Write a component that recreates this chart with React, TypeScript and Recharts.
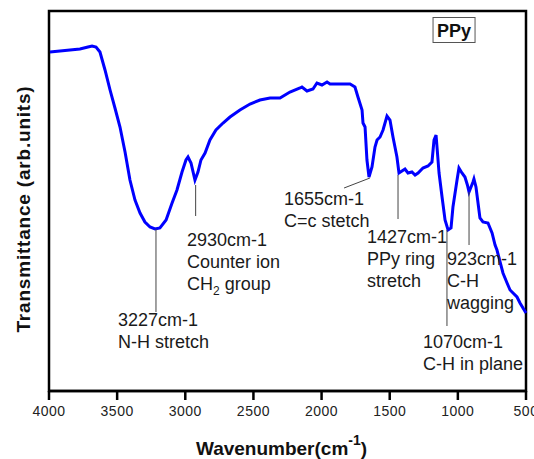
import {
  Line,
  LineChart,
  ReferenceArea,
  ReferenceDot,
  ReferenceLine,
  XAxis,
  YAxis,
} from "recharts";

// FTIR spectrum of PPy (wavenumber cm-1, transmittance arb.)
const wavenumber = [
  3993, 3846, 3773, 3714, 3684, 3655, 3626, 3589, 3552, 3516, 3479, 3442, 3406,
  3369, 3332, 3296, 3259, 3222, 3186, 3141, 3097, 3061, 3024, 2995, 2980, 2958,
  2929, 2907, 2885, 2855, 2819, 2775, 2723, 2672, 2599, 2525, 2452, 2378, 2305,
  2232, 2158, 2144, 2107, 2063, 2034, 1997, 1960, 1938, 1791, 1755, 1733, 1703,
  1696, 1681, 1667, 1652, 1630, 1608, 1593, 1571, 1549, 1520, 1498, 1476, 1447,
  1432, 1410, 1388, 1366, 1337, 1314, 1292, 1256, 1219, 1190, 1175, 1160, 1153,
  1138, 1116, 1094, 1072, 1050, 1036, 1006, 992, 970, 948, 930, 918, 889, 882,
  867, 852, 838, 816, 779, 749, 727, 713, 669, 639, 617, 595, 566, 544, 500,
];
const transmittance = [
  339, 341, 342, 344, 345, 344, 339, 321, 301, 283, 264, 239, 211, 191, 178,
  169, 164, 162, 163, 171, 188, 201, 219, 231, 234, 228, 211, 219, 231, 238,
  251, 261, 268, 274, 281, 287, 291, 293, 293, 299, 303, 304, 300, 302, 308,
  306, 309, 307, 307, 304, 294, 281, 268, 264, 231, 214, 224, 244, 251, 254,
  261, 275, 271, 254, 234, 218, 220, 222, 218, 219, 216, 218, 223, 225, 229,
  251, 256, 244, 218, 194, 171, 161, 163, 184, 211, 223, 218, 214, 206, 199,
  209, 212, 204, 188, 173, 169, 168, 158, 146, 141, 118, 108, 101, 98, 94, 88,
  78,
];

const xTicks = [4000, 3500, 3000, 2500, 2000, 1500, 1000, 500];

// peak annotations: leader line ends and text anchor, in data units
const noteFrom = [[3215, 162], [2924, 206], [1645, 213], [1439, 216], [1080, 161], [918, 199]];
const noteTo = [[3215, 79], [2924, 175], [1835, 203], [1439, 172], [1080, 65], [918, 146]];
const noteAt = [[3494, 65], [2987, 145], [2276, 186], [1667, 148], [1256, 43], [1080, 126]];
const noteText = [
  ["3227cm-1", "N-H stretch"],
  ["2930cm-1", "Counter ion", "CH_2 group"],
  ["1655cm-1", "C=c stetch"],
  ["1427cm-1", "PPy ring", "stretch"],
  ["1070cm-1", "C-H in plane"],
  ["923cm-1", "C-H", "wagging"],
];

const data = wavenumber.map((w, i) => ({ w, t: transmittance[i] }));

const FONT = "'Liberation Sans', Arial, sans-serif";

function NoteText({ cx, cy, lines }: { cx?: number; cy?: number; lines: string[] }) {
  if (cx == null || cy == null) return null;
  return (
    <text x={cx} y={cy} fontFamily={FONT} fontSize={18} fill="#1a1a1a">
      {lines.map((ln, i) => {
        const parts = ln.split("_2");
        return (
          <tspan key={i} x={cx} dy={i === 0 ? 0 : 22}>
            {parts.length > 1 ? (
              <>
                {parts[0]}
                <tspan fontSize={12} dy={5}>2</tspan>
                <tspan dy={-5}>{parts[1]}</tspan>
              </>
            ) : (
              ln
            )}
          </tspan>
        );
      })}
    </text>
  );
}

function TagBox({ cx, cy }: { cx?: number; cy?: number }) {
  if (cx == null || cy == null) return null;
  return (
    <g>
      <rect x={cx - 21} y={cy - 12.5} width={42} height={25} fill="#fff" stroke="#555" strokeWidth={1} />
      <text x={cx} y={cy + 7} textAnchor="middle" fontFamily={FONT} fontWeight="bold" fontSize={18} fill="#111">
        PPy
      </text>
    </g>
  );
}

export default function App() {
  return (
    <div style={{ position: "absolute", left: 0, top: 0, width: 534, height: 459, background: "#fff" }}>
      <LineChart width={534} height={459} data={data} margin={{ top: 11, right: 8, bottom: 0, left: 0 }}>
        <XAxis
          dataKey="w"
          type="number"
          domain={[500, 4000]}
          reversed
          ticks={xTicks}
          interval={0}
          height={68}
          tickSize={9}
          tickMargin={6}
          axisLine={{ stroke: "#000", strokeWidth: 2.5 }}
          tickLine={{ stroke: "#000", strokeWidth: 2.5 }}
          tick={{ fill: "#222", fontSize: 14, fontFamily: FONT, letterSpacing: 0.5 }}
          label={{
            content: ({ viewBox }: any) => {
              const cx = viewBox.x + viewBox.width / 2 - 6;
              return (
                <text x={cx} y={455} textAnchor="middle" fontFamily={FONT} fontWeight="bold" fontSize={19} fill="#111">
                  <tspan>Wavenumber(cm</tspan>
                  <tspan fontSize={14} dy={-10}>-1</tspan>
                  <tspan dy={10}>)</tspan>
                </text>
              );
            },
          }}
        />
        <YAxis
          type="number"
          domain={[0, 380]}
          width={49}
          tick={false}
          tickLine={false}
          axisLine={false}
          label={{
            content: ({ viewBox }: any) => {
              const x = 30;
              const y = viewBox.y + viewBox.height / 2 + 8;
              return (
                <text
                  x={x}
                  y={y}
                  transform={`rotate(-90 ${x} ${y})`}
                  textAnchor="middle"
                  fontFamily={FONT}
                  fontWeight="bold"
                  fontSize={19}
                  letterSpacing={0.8}
                  fill="#111"
                >
                  Transmittance (arb.units)
                </text>
              );
            },
          }}
        />
        <Line
          dataKey="t"
          type="linear"
          stroke="#0000ff"
          strokeWidth={3}
          dot={false}
          isAnimationActive={false}
        />
        {noteFrom.map((p, i) => (
          <ReferenceLine
            key={`l${i}`}
            segment={[
              { x: p[0], y: p[1] },
              { x: noteTo[i][0], y: noteTo[i][1] },
            ]}
            stroke="#444"
            strokeWidth={1}
          />
        ))}
        {noteAt.map((p, i) => (
          <ReferenceDot
            key={`t${i}`}
            x={p[0]}
            y={p[1]}
            r={0}
            shape={(props: any) => <NoteText cx={props.cx} cy={props.cy} lines={noteText[i]} />}
          />
        ))}
        <ReferenceDot x={1028} y={361} r={0} shape={(props: any) => <TagBox cx={props.cx} cy={props.cy} />} />
        <ReferenceArea x1={4000} x2={500} y1={0} y2={380} fill="none" stroke="#000" strokeWidth={2.5} />
      </LineChart>
    </div>
  );
}
